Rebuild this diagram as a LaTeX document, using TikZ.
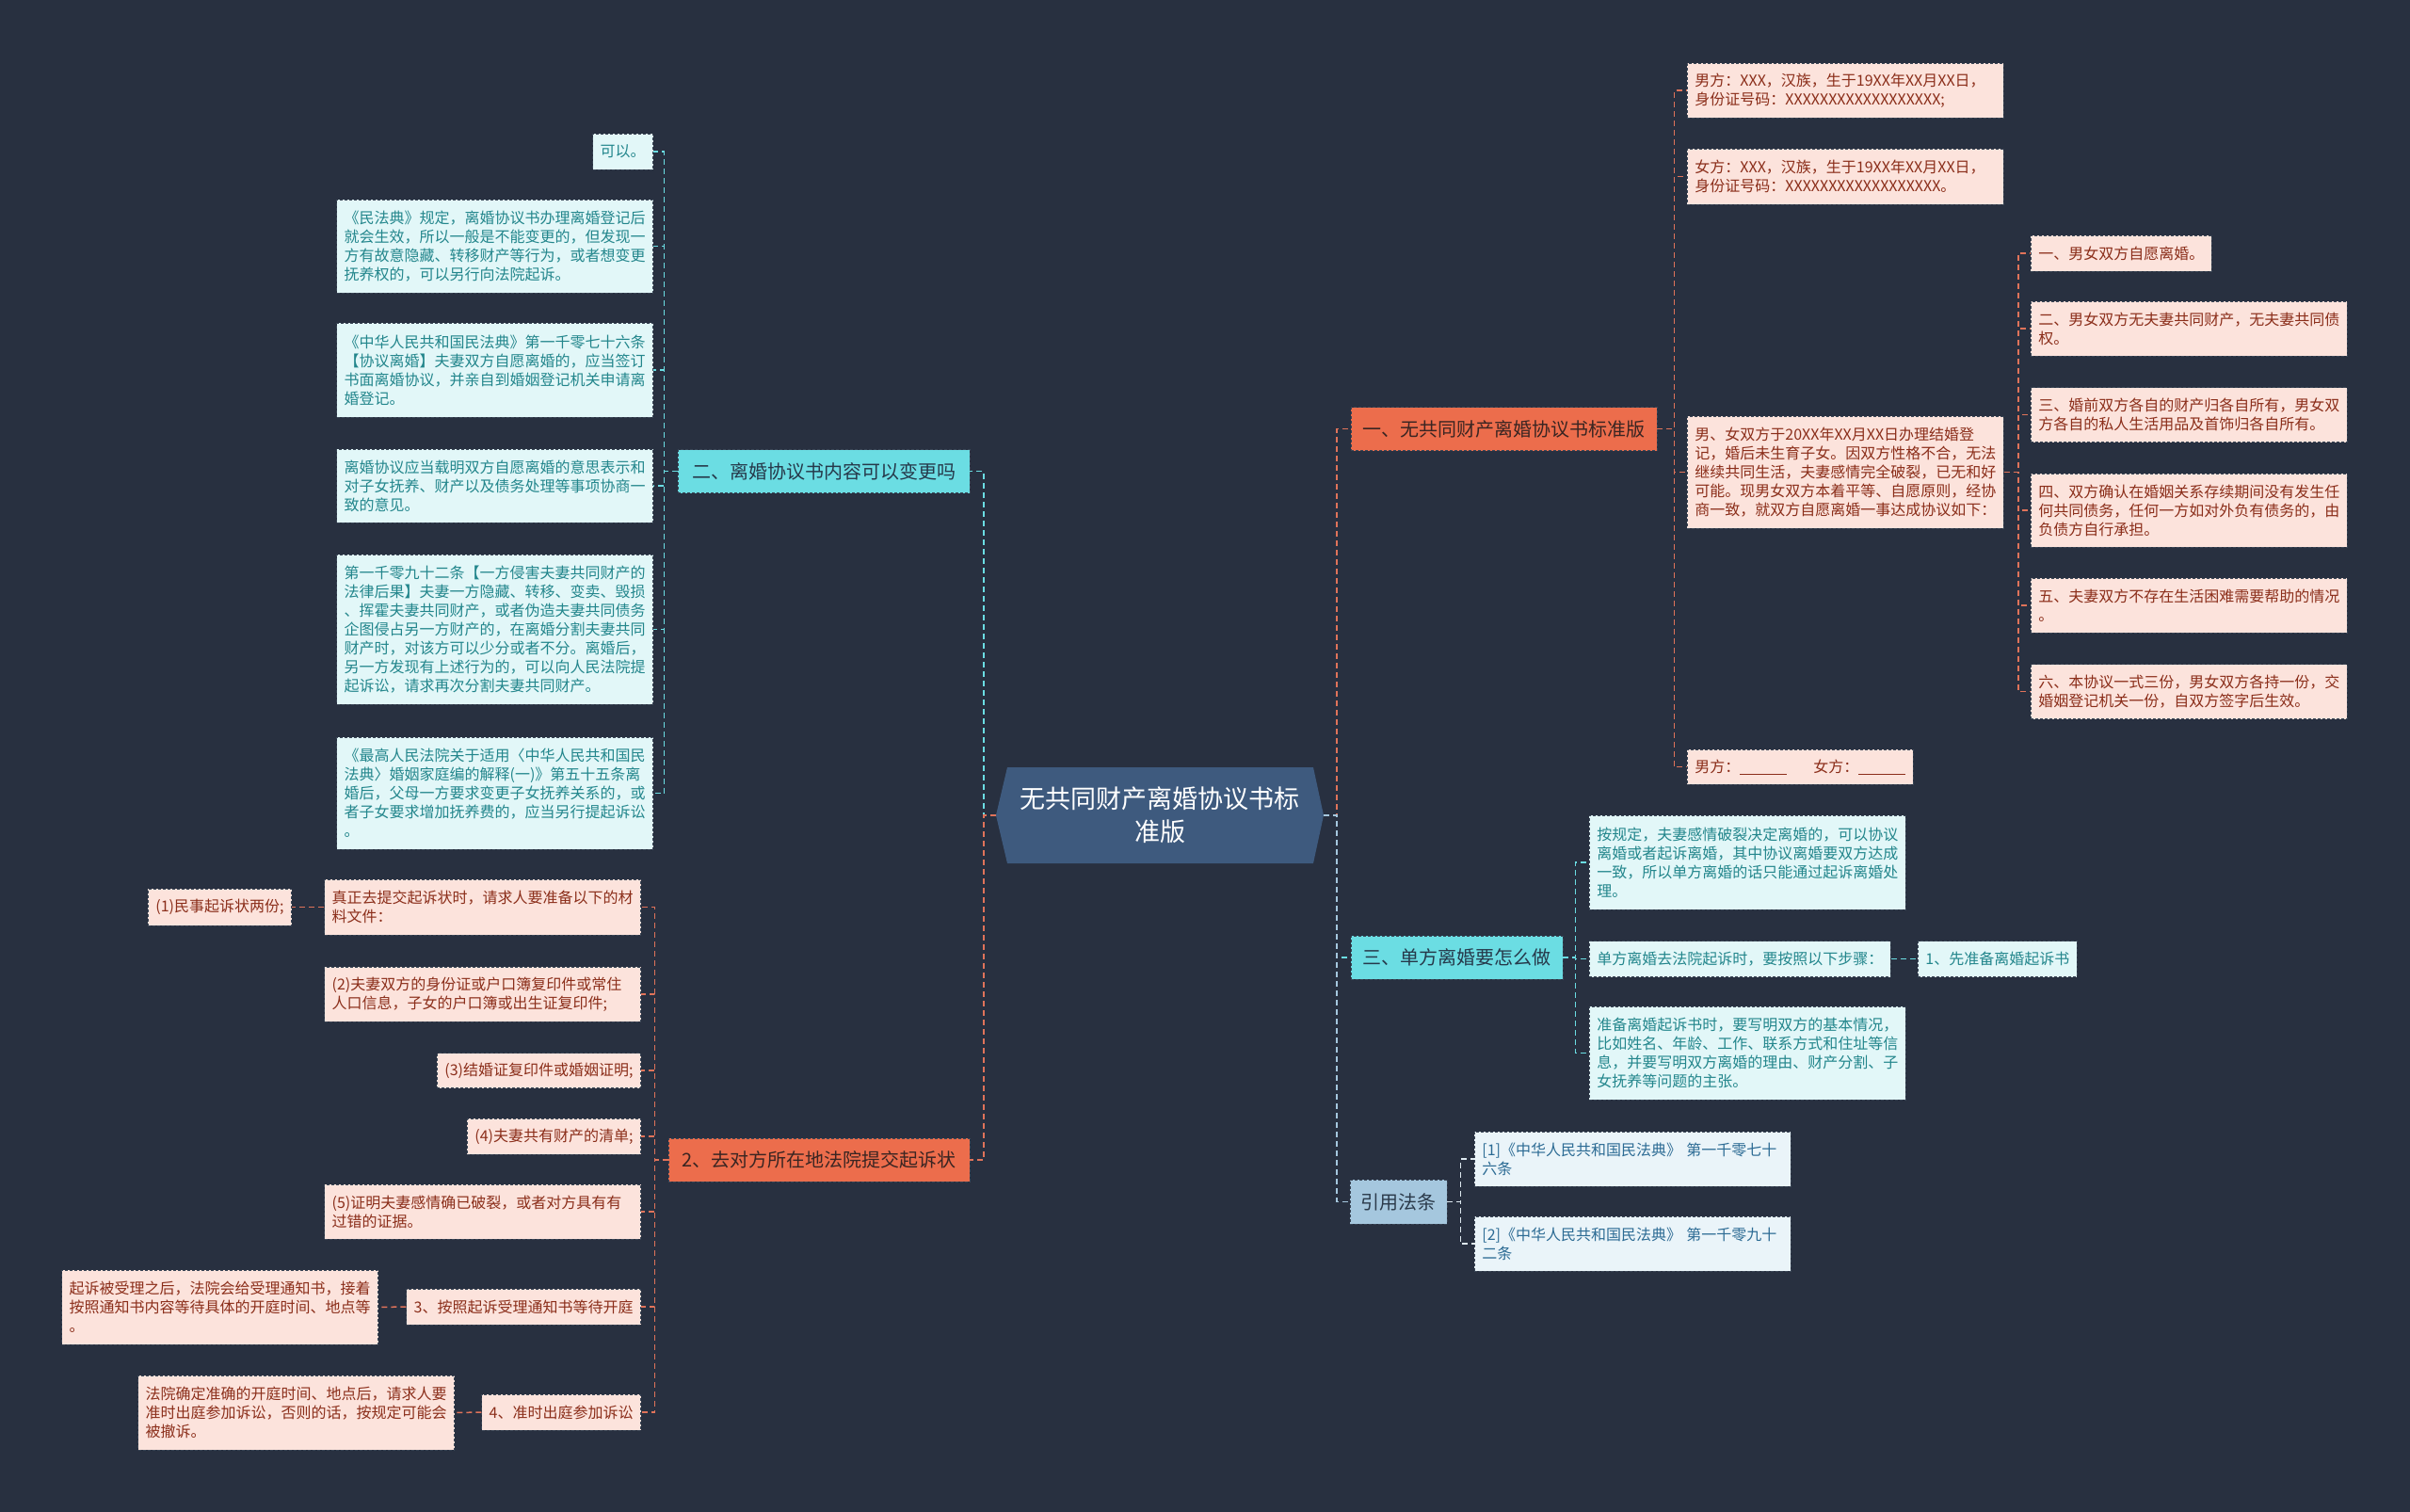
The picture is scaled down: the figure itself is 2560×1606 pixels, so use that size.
\documentclass[tikz,border=0pt]{standalone}
\usepackage{fontspec}
\setmainfont{Noto Sans CJK SC}
\definecolor{bg}{HTML}{283040}
\definecolor{rootfill}{HTML}{3E5A7E}
\definecolor{bordc}{HTML}{3A4656}
\definecolor{cbr}{HTML}{6BDDE3}
\definecolor{cbrtext}{HTML}{26394A}
\definecolor{cfill}{HTML}{E2F7F8}
\definecolor{ctext}{HTML}{23868C}
\definecolor{ccon}{HTML}{6BDDE3}
\definecolor{obr}{HTML}{EC6D4C}
\definecolor{obrtext}{HTML}{3A2522}
\definecolor{ofill}{HTML}{FCE3DC}
\definecolor{otext}{HTML}{8B2E1A}
\definecolor{ocon}{HTML}{E0735A}
\definecolor{bbr}{HTML}{A5C7DE}
\definecolor{bbrtext}{HTML}{2B3A4A}
\definecolor{bfill}{HTML}{EAF4F9}
\definecolor{btext}{HTML}{2C6B94}
\definecolor{bcon}{HTML}{DDE8EF}
\begin{document}
\begin{tikzpicture}[x=1pt,y=-1pt,
  leaf/.style={draw=bordc, dash pattern=on 3pt off 2pt, line width=0.8pt, inner xsep=8pt, inner ysep=0pt, font=\fontsize{16}{20}\selectfont, align=left},
  multi/.style={text width=320pt},
  cleaf/.style={leaf, fill=cfill, text=ctext},
  oleaf/.style={leaf, fill=ofill, text=otext},
  bleaf/.style={leaf, fill=bfill, text=btext},
  branch/.style={draw=bordc, dash pattern=on 3pt off 2pt, line width=0.8pt, inner sep=0pt, minimum height=46pt, font=\fontsize{20}{24}\selectfont, align=center},
  cbranch/.style={branch, fill=cbr, text=cbrtext},
  obranch/.style={branch, fill=obr, text=obrtext},
  bbranch/.style={branch, fill=bbr, text=bbrtext},
  conn/.style={dash pattern=on 6pt off 4pt, line width=1.5pt},
  cconn/.style={conn, draw=ccon},
  oconn/.style={conn, draw=ocon},
  bconn/.style={conn, draw=bbr},
  lconn/.style={conn, draw=bcon},
  rootnode/.style={minimum width=348pt, minimum height=102pt, inner sep=0pt, text=white, font=\fontsize{27}{35}\selectfont, align=center}
]
\fill[bg] (0,0) rectangle (2560,1606);
\useasboundingbox (0,0) rectangle (2560,1606);

% ---------- root ----------
\fill[rootfill] (1070,815) -- (1395,815) -- (1406,866) -- (1395,917) -- (1070,917) -- (1058,866) -- cycle;
\node[rootnode] (root) at (1232,866) {无共同财产离婚协议书标\\准版};

% ---------- left: branch 二 ----------
\node[cbranch, minimum width=310pt] (B2) at (875,500.5) {二、离婚协议书内容可以变更吗};
\node[cleaf, anchor=east, minimum height=38pt] (L1) at (694,161) {可以。};
\node[cleaf, multi, anchor=east, minimum height=99pt] (L2) at (694,261.5) {《民法典》规定，离婚协议书办理离婚登记后\\就会生效，所以一般是不能变更的，但发现一\\方有故意隐藏、转移财产等行为，或者想变更\\抚养权的，可以另行向法院起诉。};
\node[cleaf, multi, anchor=east, minimum height=100pt] (L3) at (694,393) {《中华人民共和国民法典》第一千零七十六条\\【协议离婚】夫妻双方自愿离婚的，应当签订\\书面离婚协议，并亲自到婚姻登记机关申请离\\婚登记。};
\node[cleaf, multi, anchor=east, minimum height=78pt] (L4) at (694,516) {离婚协议应当载明双方自愿离婚的意思表示和\\对子女抚养、财产以及债务处理等事项协商一\\致的意见。};
\node[cleaf, multi, anchor=east, minimum height=159pt] (L5) at (694,668.5) {第一千零九十二条【一方侵害夫妻共同财产的\\法律后果】夫妻一方隐藏、转移、变卖、毁损\\、挥霍夫妻共同财产，或者伪造夫妻共同债务\\企图侵占另一方财产的，在离婚分割夫妻共同\\财产时，对该方可以少分或者不分。离婚后，\\另一方发现有上述行为的，可以向人民法院提\\起诉讼，请求再次分割夫妻共同财产。};
\node[cleaf, multi, anchor=east, minimum height=119pt] (L6) at (694,842.5) {《最高人民法院关于适用〈中华人民共和国民\\法典〉婚姻家庭编的解释(一)》第五十五条离\\婚后，父母一方要求变更子女抚养关系的，或\\者子女要求增加抚养费的，应当另行提起诉讼\\。};
\foreach \n in {L1,L2,L3,L4,L5,L6}
  \draw[cconn] (B2.west) -- ([xshift=-14pt]B2.west) |- (\n.east);

% ---------- left: branch 2 ----------
\node[obranch, minimum width=320pt] (B4) at (870,1232) {2、去对方所在地法院提交起诉状};
\node[oleaf, multi, anchor=east, minimum height=59pt] (O1) at (681,963.5) {真正去提交起诉状时，请求人要准备以下的材\\料文件：};
\node[oleaf, anchor=east, minimum height=39pt] (O1a) at (310,963.5) {(1)民事起诉状两份;};
\node[oleaf, multi, anchor=east, minimum height=58pt] (O2) at (681,1056) {(2)夫妻双方的身份证或户口簿复印件或常住\\人口信息，子女的户口簿或出生证复印件;};
\node[oleaf, anchor=east, minimum height=37pt] (O3) at (681,1137) {(3)结婚证复印件或婚姻证明;};
\node[oleaf, anchor=east, minimum height=38pt] (O4) at (681,1207) {(4)夫妻共有财产的清单;};
\node[oleaf, multi, anchor=east, minimum height=58pt] (O5) at (681,1287) {(5)证明夫妻感情确已破裂，或者对方具有有\\过错的证据。};
\node[oleaf, anchor=east, minimum height=38pt] (O6) at (681,1388) {3、按照起诉受理通知书等待开庭};
\node[oleaf, multi, anchor=east, minimum height=79pt] (O6a) at (402,1388.5) {起诉被受理之后，法院会给受理通知书，接着\\按照通知书内容等待具体的开庭时间、地点等\\。};
\node[oleaf, anchor=east, minimum height=38pt] (O7) at (681,1500) {4、准时出庭参加诉讼};
\node[oleaf, multi, anchor=east, minimum height=79pt] (O7a) at (483,1500.5) {法院确定准确的开庭时间、地点后，请求人要\\准时出庭参加诉讼，否则的话，按规定可能会\\被撤诉。};
\foreach \n in {O1,O2,O3,O4,O5,O6,O7}
  \draw[oconn] (B4.west) -- ([xshift=-14pt]B4.west) |- (\n.east);
\draw[oconn] (O1.west) -- (O1a.east);
\draw[oconn] (O6.west) -- (O6a.east);
\draw[oconn] (O7.west) -- (O7a.east);

% ---------- right: branch 一 ----------
\node[obranch, minimum width=325pt] (B1) at (1597.5,455.5) {一、无共同财产离婚协议书标准版};
\node[oleaf, multi, anchor=west, minimum height=58pt] (R1) at (1792,96) {男方：XXX，汉族，生于19XX年XX月XX日，\\身份证号码：XXXXXXXXXXXXXXXXXX;};
\node[oleaf, multi, anchor=west, minimum height=59pt] (R2) at (1792,187.5) {女方：XXX，汉族，生于19XX年XX月XX日，\\身份证号码：XXXXXXXXXXXXXXXXXX。};
\node[oleaf, multi, anchor=west, minimum height=119pt] (R3) at (1792,501.5) {男、女双方于20XX年XX月XX日办理结婚登\\记，婚后未生育子女。因双方性格不合，无法\\继续共同生活，夫妻感情完全破裂，已无和好\\可能。现男女双方本着平等、自愿原则，经协\\商一致，就双方自愿离婚一事达成协议如下：};
\node[oleaf, anchor=west, minimum height=37pt] (R4) at (1792,814.5) {男方：\rule[-2pt]{50pt}{0.8pt}\hspace{28pt}女方：\rule[-2pt]{50pt}{0.8pt}};
\foreach \n in {R1,R2,R3,R4}
  \draw[oconn] (B1.east) -- ([xshift=18pt]B1.east) |- (\n.west);

\node[oleaf, anchor=west, minimum height=38pt] (G1) at (2157,269) {一、男女双方自愿离婚。};
\node[oleaf, multi, anchor=west, minimum height=58pt] (G2) at (2157,349) {二、男女双方无夫妻共同财产，无夫妻共同债\\权。};
\node[oleaf, multi, anchor=west, minimum height=58pt] (G3) at (2157,440.5) {三、婚前双方各自的财产归各自所有，男女双\\方各自的私人生活用品及首饰归各自所有。};
\node[oleaf, multi, anchor=west, minimum height=78pt] (G4) at (2157,542) {四、双方确认在婚姻关系存续期间没有发生任\\何共同债务，任何一方如对外负有债务的，由\\负债方自行承担。};
\node[oleaf, multi, anchor=west, minimum height=58pt] (G5) at (2157,643) {五、夫妻双方不存在生活困难需要帮助的情况\\。};
\node[oleaf, multi, anchor=west, minimum height=58pt] (G6) at (2157,734.5) {六、本协议一式三份，男女双方各持一份，交\\婚姻登记机关一份，自双方签字后生效。};
\foreach \n in {G1,G2,G3,G4,G5,G6}
  \draw[oconn] (R3.east) -- ([xshift=15pt]R3.east) |- (\n.west);

% ---------- right: branch 三 ----------
\node[cbranch, minimum width=225pt] (B3) at (1547.5,1017) {三、单方离婚要怎么做};
\node[cleaf, multi, anchor=west, minimum height=100pt] (S1) at (1688,916) {按规定，夫妻感情破裂决定离婚的，可以协议\\离婚或者起诉离婚，其中协议离婚要双方达成\\一致，所以单方离婚的话只能通过起诉离婚处\\理。};
\node[cleaf, anchor=west, minimum height=38pt] (S2) at (1688,1018.5) {单方离婚去法院起诉时，要按照以下步骤：};
\node[cleaf, anchor=west, minimum height=38pt] (S2a) at (2037,1018.5) {1、先准备离婚起诉书};
\node[cleaf, multi, anchor=west, minimum height=99pt] (S3) at (1688,1118.5) {准备离婚起诉书时，要写明双方的基本情况，\\比如姓名、年龄、工作、联系方式和住址等信\\息，并要写明双方离婚的理由、财产分割、子\\女抚养等问题的主张。};
\foreach \n in {S1,S2,S3}
  \draw[cconn] (B3.east) -- ([xshift=13pt]B3.east) |- (\n.west);
\draw[cconn] (S2.east) -- (S2a.west);

% ---------- right: 引用法条 ----------
\node[bbranch, minimum width=103pt, minimum height=47pt] (B5) at (1485.5,1276.5) {引用法条};
\node[bleaf, multi, anchor=west, minimum height=58pt] (F1) at (1566,1231) {[1]《中华人民共和国民法典》 第一千零七十\\六条};
\node[bleaf, multi, anchor=west, minimum height=58pt] (F2) at (1566,1321) {[2]《中华人民共和国民法典》 第一千零九十\\二条};
\foreach \n in {F1,F2}
  \draw[lconn] (B5.east) -- ([xshift=14pt]B5.east) |- (\n.west);

% ---------- root connectors ----------
\draw[cconn] (root.west) -- ([xshift=-13pt]root.west) |- (B2.east);
\draw[oconn] (root.west) -- ([xshift=-13pt]root.west) |- (B4.east);
\draw[oconn] (root.east) -- ([xshift=14pt]root.east) |- (B1.west);
\draw[cconn] (root.east) -- ([xshift=14pt]root.east) |- (B3.west);
\draw[bconn] (root.east) -- ([xshift=14pt]root.east) |- (B5.west);
\end{tikzpicture}
\end{document}
